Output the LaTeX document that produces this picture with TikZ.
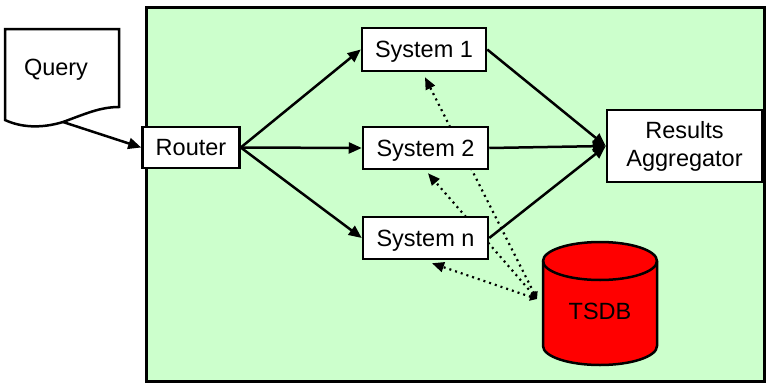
\documentclass[tikz,border=0pt]{standalone}
\usepackage{fontspec}
\setmainfont{Liberation Sans}
\usetikzlibrary{arrows.meta}
\definecolor{panelgreen}{HTML}{CCFFCC}
\begin{document}
\begin{tikzpicture}[x=1pt,y=-1pt,
  font=\fontsize{23.5}{30}\selectfont,
  box/.style={draw, fill=white, line width=2.5pt, inner sep=0pt, align=center},
  oneline/.style={text height=22pt, text depth=5.5pt},
  flow/.style={line width=2.5pt, -{Triangle[length=13pt,width=11pt]}},
  feed/.style={line width=2.2pt, dash pattern=on 2pt off 4pt,
    {Triangle[length=7pt,width=8pt]}-{Triangle[length=12pt,width=10pt]}}]
\useasboundingbox (0,0) rectangle (766,383);

% processing area
\node[draw, line width=3pt, fill=panelgreen, minimum width=618.5pt,
  minimum height=374pt, anchor=north west, inner sep=0pt] (frame) at (144.5,5.5) {};

% query document
\filldraw[fill=white, line width=2.5pt]
  (5,29) -- (119,29) -- (119,107)
  .. controls (100,107) and (85,114) .. (63,122)
  .. controls (40,129) and (20,127) .. (5,120) -- cycle;
\node[oneline] (query) at (56,67) {Query};
\coordinate (qout) at (63,122);

% database feeds (behind the system boxes)
\coordinate (dbport) at (537,299);
\node[box,oneline] (sys1) at (424,49.5) [minimum width=124pt, minimum height=43pt] {System 1};
\node[box,oneline] (sys2) at (425.5,148) [minimum width=125pt, minimum height=42pt] {System 2};
\node[box,oneline] (sysn) at (425.5,238) [minimum width=125pt, minimum height=42pt] {System n};
\coordinate (t1) at ([xshift=1pt,yshift=-5pt]sys1.south);
\coordinate (t2) at ([xshift=2.5pt,yshift=-3pt]sys2.south);
\coordinate (tn) at ([xshift=6.5pt,yshift=-3pt]sysn.south);
\draw[feed] (dbport) -- (t1);
\draw[feed] (dbport) -- (t2);
\draw[feed] (dbport) -- (tn);

% redraw boxes over the feed lines
\node[box,oneline] at (sys1) [minimum width=124pt, minimum height=43pt] {System 1};
\node[box,oneline] at (sys2) [minimum width=125pt, minimum height=42pt] {System 2};
\node[box,oneline] at (sysn) [minimum width=125pt, minimum height=42pt] {System n};

\node[box,oneline] (router) at (191,147.5) [minimum width=97pt, minimum height=41pt] {Router};
\node[box] (agg) at (684.5,146) [minimum width=155pt, minimum height=72pt] {\raisebox{-2pt}{Results}\\Aggregator};

% TSDB cylinder
\filldraw[fill=red, line width=2.5pt]
  (543,261) -- (543,346) arc[start angle=180, end angle=0, x radius=57, y radius=19]
  -- (657,261) arc[start angle=0, end angle=-180, x radius=57, y radius=19] -- cycle;
\draw[line width=2.5pt] (543,261) arc[start angle=180, end angle=0, x radius=57, y radius=19];
\node[oneline] (tsdb) at (600,311) {TSDB};

% connectors
\draw[flow] (qout) -- (router.west);
\draw[flow] (router.east) -- (sys1.west);
\draw[flow] (router.east) -- (sys2.west);
\draw[flow] (router.east) -- (sysn.west);
\draw[flow] (sys1.east) -- (agg.west);
\draw[flow] (sys2.east) -- (agg.west);
\draw[flow] (sysn.east) -- (agg.west);
\draw[line width=2.5pt] (agg.east) -- ++(6,0);
\end{tikzpicture}
\end{document}
